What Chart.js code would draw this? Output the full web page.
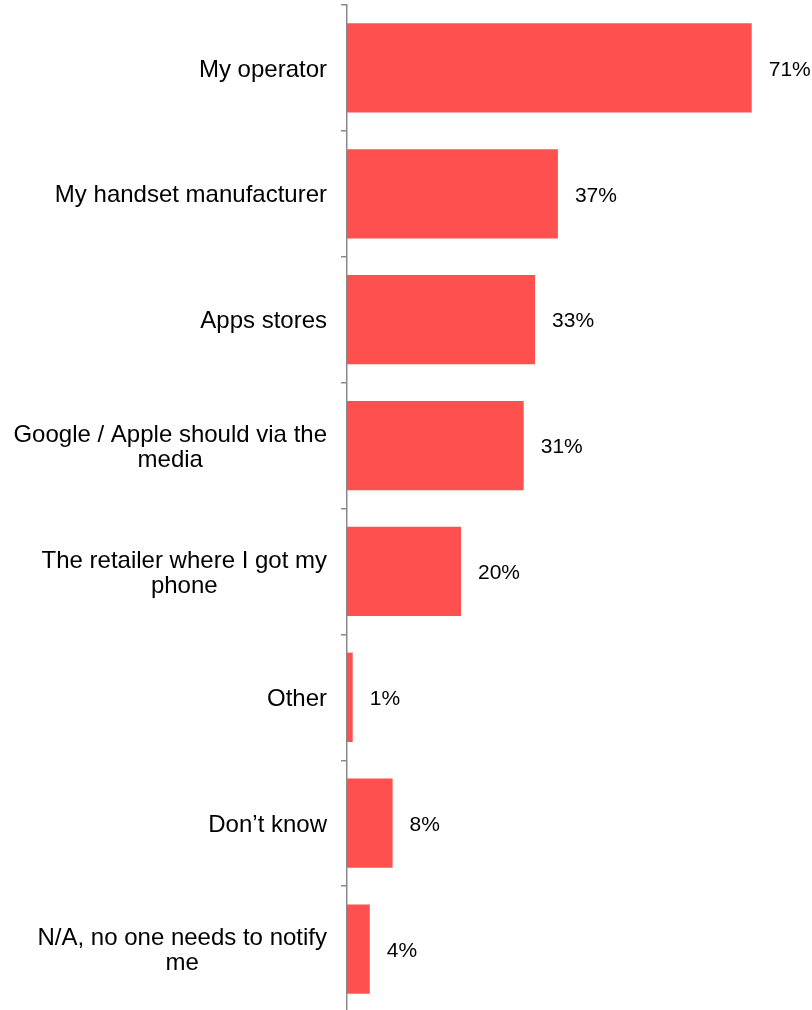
<!DOCTYPE html>
<html>
<head>
<meta charset="utf-8">
<script src="https://cdn.jsdelivr.net/npm/chart.js@4.4.1/dist/chart.umd.min.js"></script>
<style>
  html, body { margin: 0; padding: 0; background: #fff; overflow: hidden; }
  #wrap { width: 812px; height: 1010px; overflow: hidden; }
</style>
</head>
<body>
<div id="wrap"><canvas id="canvas" width="812" height="1012"></canvas></div>
<script>
// categories (multi-line where the original wraps)
var categories = [
  "My operator",
  "My handset manufacturer",
  "Apps stores",
  ["Google / Apple should via the", "media"],
  ["The retailer where I got my", "phone"],
  "Other",
  "Don\u2019t know",
  ["N/A, no one needs to notify", "me"]
];
var shares = [71, 37, 33, 31, 20, 1, 8, 4];
var valueLabels = ["71%", "37%", "33%", "31%", "20%", "1%", "8%", "4%"];

var FONT = '"Liberation Sans", Arial, sans-serif';

// draws category labels (right aligned block, lines centred) and value labels
var labelPlugin = {
  id: 'labelPlugin',
  afterDraw: function(chart) {
    var ctx = chart.ctx;
    var ys = chart.scales.y;
    var meta = chart.getDatasetMeta(0);
    ctx.save();
    ctx.fillStyle = '#000';
    ctx.textBaseline = 'middle';

    ctx.font = '24px ' + FONT;
    ctx.textAlign = 'center';
    categories.forEach(function(lab, i) {
      var lines = Array.isArray(lab) ? lab : [lab];
      var w = 0;
      lines.forEach(function(l) { w = Math.max(w, ctx.measureText(l).width); });
      var cx = ys.right - 20 - w / 2;
      var cy = ys.getPixelForValue(i) + 2;
      var lh = 25;
      var y0 = cy - (lines.length - 1) * lh / 2;
      lines.forEach(function(l, k) { ctx.fillText(l, cx, y0 + k * lh); });
    });

    ctx.font = '21px ' + FONT;
    ctx.textAlign = 'left';
    meta.data.forEach(function(bar, i) {
      ctx.fillText(valueLabels[i], bar.x + 17, bar.y + 2);
    });
    ctx.restore();
  }
};

new Chart(document.getElementById('canvas'), {
  type: 'bar',
  data: {
    labels: categories,
    datasets: [{
      data: shares,
      backgroundColor: '#FF5050',
      borderWidth: 0,
      barPercentage: 0.71,
      categoryPercentage: 1
    }]
  },
  options: {
    indexAxis: 'y',
    responsive: false,
    animation: false,
    layout: { padding: { top: 5, right: 9, bottom: 0, left: 0 } },
    plugins: {
      legend: { display: false },
      tooltip: { enabled: false }
    },
    scales: {
      x: {
        display: false,
        min: 0,
        max: 80
      },
      y: {
        ticks: { display: false },
        grid: {
          offset: true,
          drawOnChartArea: false,
          drawTicks: true,
          tickLength: 6,
          color: '#8a8a8a',
          lineWidth: 1.5
        },
        border: { color: '#8a8a8a', width: 1.5 },
        afterFit: function(scale) { scale.width = 347; }
      }
    }
  },
  plugins: [labelPlugin]
});
</script>
</body>
</html>
